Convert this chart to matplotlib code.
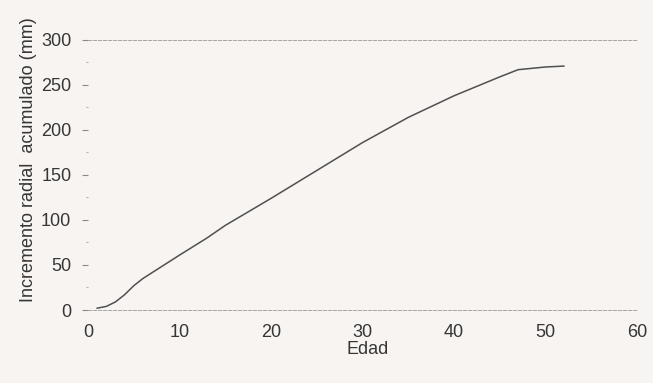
import matplotlib.pyplot as plt
from matplotlib.ticker import MultipleLocator

edad = [1, 2, 3, 4, 5, 6, 8, 10, 13, 15, 20, 25, 30, 35, 40, 45, 47, 50, 52]
incremento = [2, 4, 9, 17, 27, 35, 48, 61, 80, 94, 124, 155, 186, 214, 238, 259, 267, 270, 271]

x_ticks = [0, 10, 20, 30, 40, 50, 60]
y_ticks = [0, 50, 100, 150, 200, 250, 300]

fondo = "#f8f4f2"
texto = "#363636"

plt.rcParams["font.family"] = ["Liberation Sans", "DejaVu Sans"]

fig = plt.figure(figsize=(6.53, 3.83), dpi=100)
fig.patch.set_facecolor(fondo)
ax = fig.add_axes([0.1348, 0.1906, 0.8407, 0.705])
ax.set_facecolor(fondo)

ax.plot(edad, incremento, color="#505050", linewidth=1.1)

ax.set_xlim(0, 60)
ax.set_ylim(0, 300)
ax.set_xticks(x_ticks)
ax.set_yticks(y_ticks)
ax.yaxis.set_minor_locator(MultipleLocator(25))

for lado in ["left", "right"]:
    ax.spines[lado].set_visible(False)
for lado in ["top", "bottom"]:
    ax.spines[lado].set_color("#9a9a9a")
    ax.spines[lado].set_linewidth(0.6)
    ax.spines[lado].set_linestyle((0, (4, 2)))

ax.tick_params(axis="x", length=0, pad=10, labelsize=13, labelcolor=texto)
ax.tick_params(axis="y", which="major", length=4, width=0.8, color="#8a8a8a",
               pad=8, labelsize=13, labelcolor=texto)
ax.tick_params(axis="y", which="minor", length=1.5, width=0.8, color="#b0b0b0")

ax.set_xlabel("Edad", fontsize=13, color=texto)
ax.xaxis.set_label_coords(0.51, -0.115)
ax.set_ylabel("Incremento radial  acumulado (mm)", fontsize=13, color=texto)
ax.yaxis.set_label_coords(-0.093, 0.556)

fig.savefig("out.png", dpi=100, facecolor=fondo)
